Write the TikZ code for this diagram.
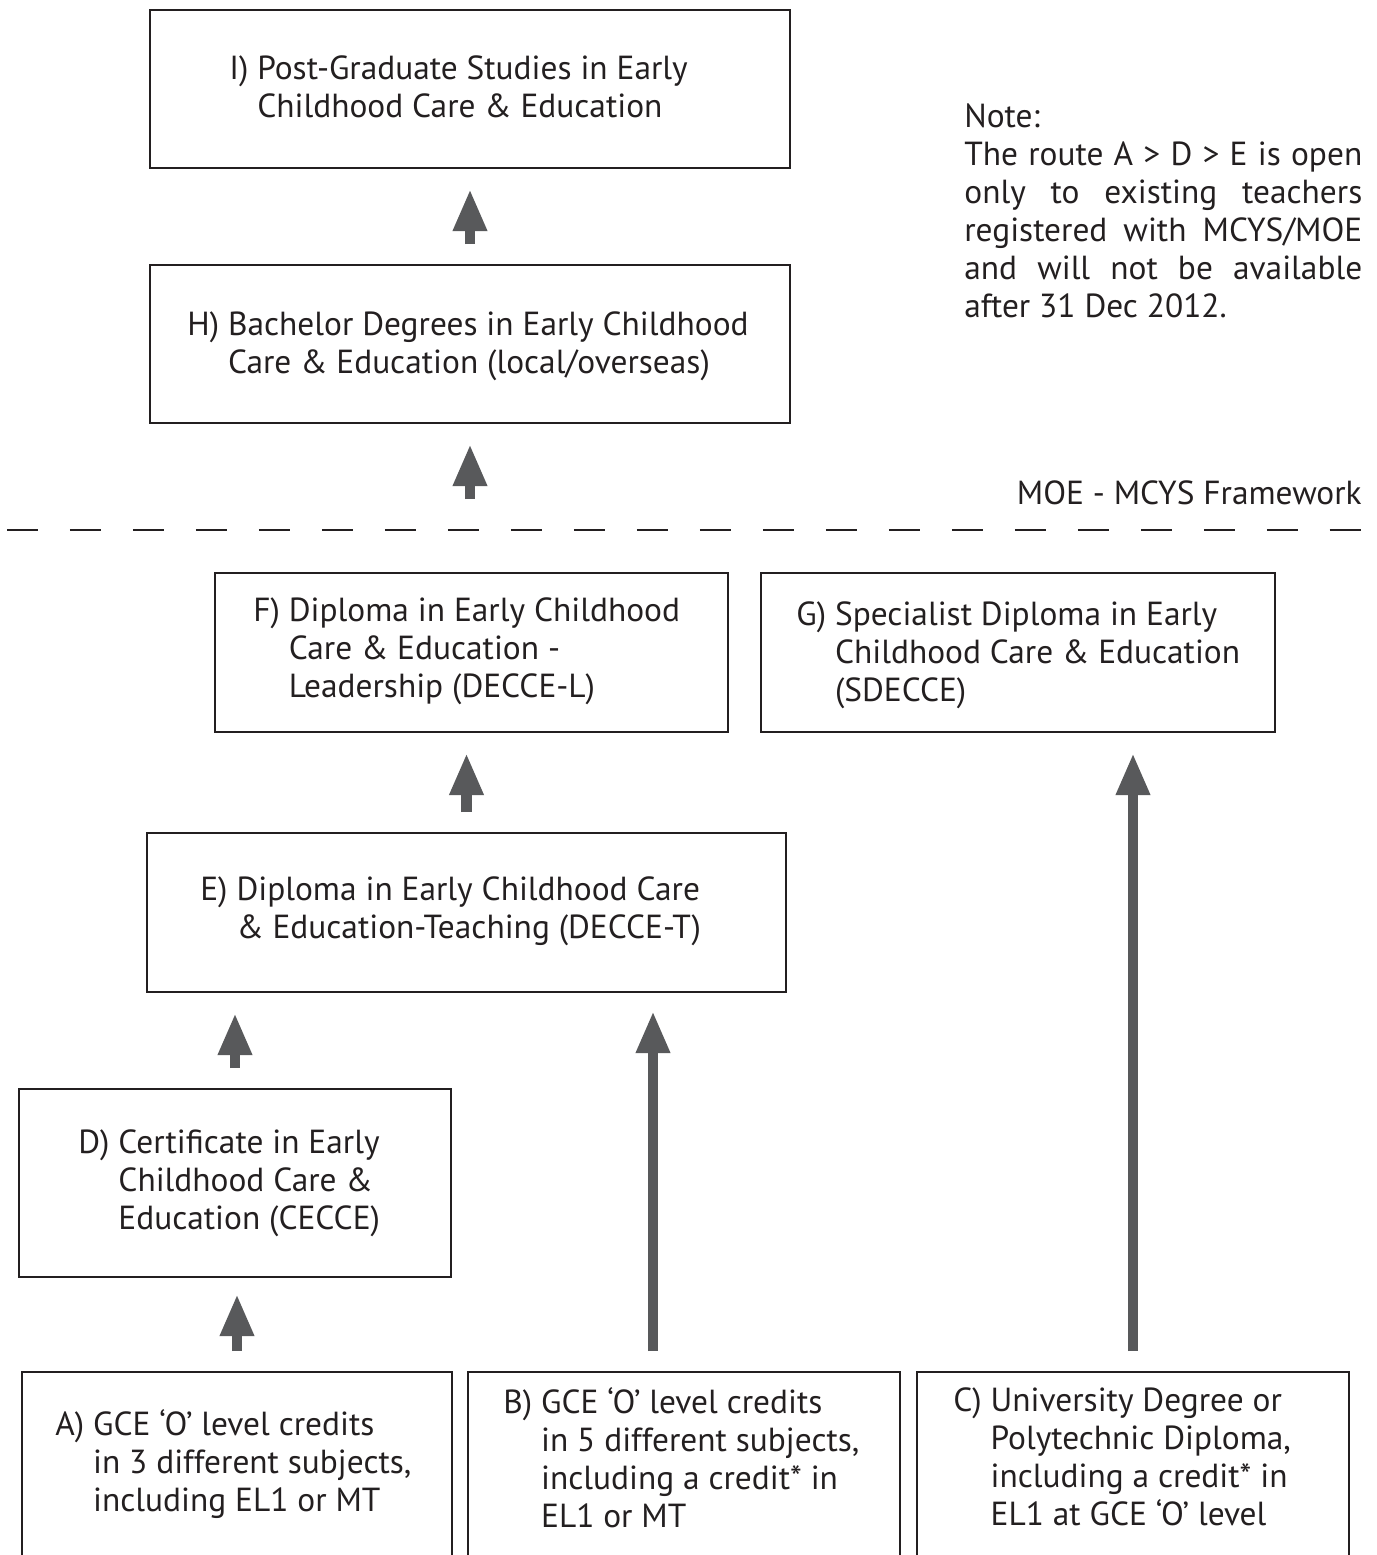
\documentclass[tikz,border=0pt]{standalone}
\usepackage{fontspec}
\setmainfont{PT Sans}
\usetikzlibrary{arrows.meta}
\definecolor{inkdark}{HTML}{231F20}
\definecolor{arrowgrey}{HTML}{58595B}
\newcommand{\lbl}[2]{#1~\begin{tabular}[t]{@{}l@{}}#2\end{tabular}}
\newcommand{\jline}[1]{\makebox[7.96cm][s]{#1}}

\begin{document}
\begin{tikzpicture}
  [x=0.02cm, y=-0.02cm,
   box/.style={rectangle, draw=inkdark, line width=1.1pt, inner sep=0pt},
   txt/.style={anchor=base west, inner sep=0pt, text=inkdark, font=\fontsize{19pt}{21.7pt}\selectfont},
   uparrow/.style={draw=arrowgrey, line width=6pt, -{Triangle[width=18pt, length=24pt]},
                   shorten <=0.4cm, shorten >=0.4cm}]

  \useasboundingbox (0,0) rectangle (1376,1555);
  \clip (0,0) rectangle (1376,1555);

  % Cajas
  \node[box, minimum width=12.8cm,  minimum height=3.16cm] (I) at (470,89) {};
  \node[box, minimum width=12.8cm,  minimum height=3.16cm] (H) at (470,344) {};
  \node[box, minimum width=10.26cm, minimum height=3.18cm] (F) at (471.5,652.5) {};
  \node[box, minimum width=10.28cm, minimum height=3.18cm] (G) at (1018,652.5) {};
  \node[box, minimum width=12.78cm, minimum height=3.18cm] (E) at (466.5,912.5) {};
  \node[box, minimum width=8.64cm,  minimum height=3.76cm] (D) at (235,1183) {};
  \node[box, minimum width=8.6cm,   minimum height=4.56cm] (A) at (237,1486) {};
  \node[box, minimum width=8.64cm,  minimum height=4.56cm] (B) at (684,1486) {};
  \node[box, minimum width=8.64cm,  minimum height=4.56cm] (C) at (1133,1486) {};

  % Textos
  \node[txt] (Itxt) at (229,79) {\lbl{I)}{Post-Graduate Studies in Early\\Childhood Care \& Education}};
  \node[txt] (Htxt) at (187,335) {\lbl{H)}{Bachelor Degrees in Early Childhood\\Care \& Education (local/overseas)}};
  \node[txt] (Ftxt) at (253,621) {\lbl{F)}{Diploma in Early Childhood\\Care \& Education -\\Leadership (DECCE-L)}};
  \node[txt] (Gtxt) at (796,625) {\lbl{G)}{Specialist Diploma in Early\\Childhood Care \& Education\\(SDECCE)}};
  \node[txt] (Etxt) at (200,900) {\lbl{E)}{Diploma in Early Childhood Care\\\& Education-Teaching (DECCE-T)}};
  \node[txt] (Dtxt) at (78,1153) {\lbl{D)}{Certificate in Early\\Childhood Care \&\\Education (CECCE)}};
  \node[txt] (Atxt) at (55,1435) {\lbl{A)}{GCE ‘O’ level credits\\in 3 different subjects,\\including EL1 or MT}};
  \node[txt] (Btxt) at (503,1413) {\lbl{B)}{GCE ‘O’ level credits\\in 5 different subjects,\\including a credit* in\\EL1 or MT}};
  \node[txt] (Ctxt) at (953,1411) {\lbl{C)}{University Degree or\\Polytechnic Diploma,\\including a credit* in\\EL1 at GCE ‘O’ level}};

  % Nota
  \node[txt] (note) at (964,127) {\begin{tabular}[t]{@{}l@{}}Note:\\
    \jline{The route A > D > E is open}\\
    \jline{only to existing teachers}\\
    \jline{registered with MCYS/MOE}\\
    \jline{and will not be available}\\
    after 31 Dec 2012.\end{tabular}};

  % Marco MOE - MCYS
  \node[txt, anchor=base east] (frame) at (1362,504) {MOE - MCYS Framework};
  \draw[inkdark, line width=1.3pt, dash pattern=on 0.62cm off 0.64cm] (7,530) -- (1362,530);

  % Flechas
  \draw[uparrow] (H.north) -- (I.south);
  \draw[uparrow, shorten <=1.46cm] (F.north -| H) -- (H.south);
  \draw[uparrow] (E.north) -- (E.north |- F.south);
  \draw[uparrow] (D.north) -- (D.north |- E.south);
  \draw[uparrow, shorten >=0.32cm] (A.north) -- (A.north |- D.south);
  \draw[uparrow, shorten >=0.36cm] ([xshift=-0.62cm]B.north) -- ([xshift=-0.62cm]B.north |- E.south);
  \draw[uparrow] (C.north) -- (C.north |- G.south);
\end{tikzpicture}
\end{document}
